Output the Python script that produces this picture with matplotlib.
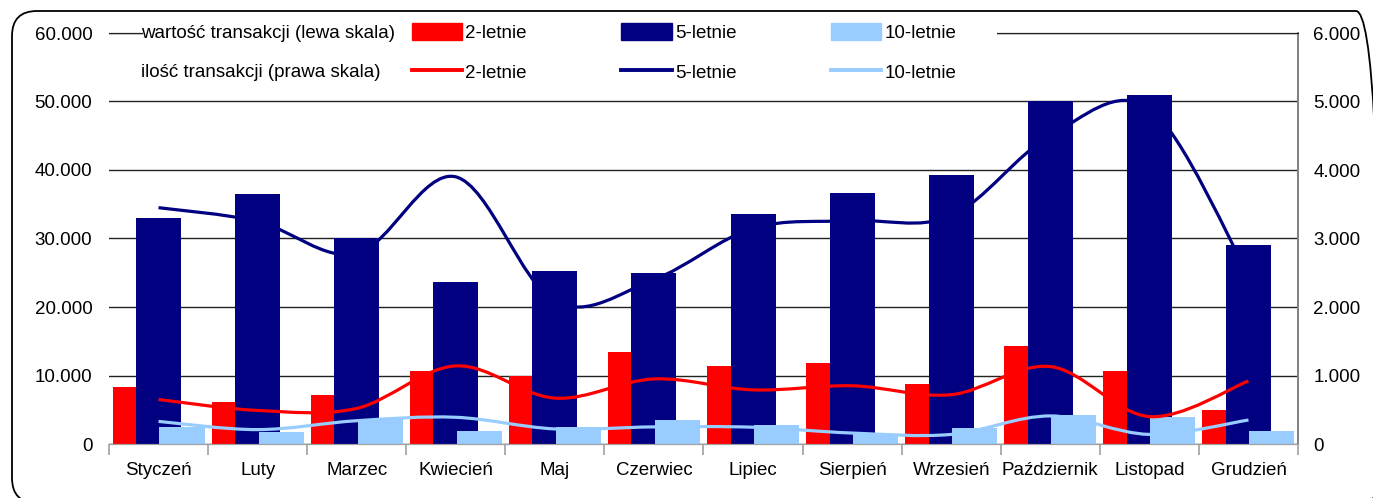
import numpy as np
import matplotlib
matplotlib.use("Agg")
import matplotlib.pyplot as plt
from matplotlib.path import Path
from matplotlib.patches import PathPatch, Rectangle, FancyBboxPatch, Patch
from matplotlib.lines import Line2D
from matplotlib.ticker import FuncFormatter, MultipleLocator

plt.rcParams['font.family'] = ['Liberation Sans', 'DejaVu Sans']
plt.rcParams['font.size'] = 13.5

months = ['Styczeń', 'Luty', 'Marzec', 'Kwiecień', 'Maj', 'Czerwiec', 'Lipiec',
          'Sierpień', 'Wrzesień', 'Październik', 'Listopad', 'Grudzień']

# wartość transakcji (lewa skala)
val_2 = [8300, 6100, 7100, 10600, 9900, 13400, 11400, 11800, 8700, 14300, 10600, 4900]
val_5 = [33000, 36500, 30100, 23700, 25200, 24900, 33600, 36700, 39300, 50000, 51000, 29000]
val_10 = [2550, 1700, 3600, 1950, 2550, 3500, 2800, 1400, 2350, 4300, 4000, 1950]

# ilość transakcji (prawa skala)
cnt_2 = [650, 490, 520, 1140, 670, 950, 790, 850, 720, 1130, 400, 920]
cnt_5 = [3450, 3250, 2780, 3900, 2080, 2400, 3150, 3260, 3330, 4500, 4900, 2470]
cnt_10 = [330, 210, 340, 390, 220, 250, 245, 160, 140, 410, 140, 350]

RED = '#FF0000'
NAVY = '#000080'
LIGHT = '#99CCFF'


def smooth_path(xs, ys):
    # Catmull-Rom style bezier through the points (like a "smoothed line")
    pts = np.column_stack([xs, ys]).astype(float)
    n = len(pts)
    verts = [pts[0]]
    codes = [Path.MOVETO]
    for i in range(n - 1):
        p0 = pts[max(i - 1, 0)]
        p1 = pts[i]
        p2 = pts[i + 1]
        p3 = pts[min(i + 2, n - 1)]
        verts += [p1 + (p2 - p0) / 6, p2 - (p3 - p1) / 6, p2]
        codes += [Path.CURVE4] * 3
    return Path(verts, codes)


def pl_fmt(v, pos):
    return f"{int(round(v)):,}".replace(",", ".")


fig = plt.figure(figsize=(13.73, 4.98), dpi=100)
ax = fig.add_axes([109 / 1373, 54 / 498, 1189 / 1373, 411 / 498])
ax2 = ax.twinx()

x = np.arange(len(months))
w = 0.455
step = 0.237
ax.bar(x - step, val_2, w, color=RED, zorder=2)
ax.bar(x, val_5, w, color=NAVY, zorder=2)
ax.bar(x + step, val_10, w, color=LIGHT, zorder=2)

for vals, col in [(cnt_2, RED), (cnt_5, NAVY), (cnt_10, LIGHT)]:
    ax2.add_patch(PathPatch(smooth_path(x, vals), facecolor='none', edgecolor=col,
                            lw=2.3, capstyle='butt', joinstyle='round'))

ax.set_xlim(-0.5, 11.5)
ax.set_ylim(0, 60000)
ax2.set_ylim(0, 6000)

ax.yaxis.set_major_locator(MultipleLocator(10000))
ax.yaxis.set_major_formatter(FuncFormatter(pl_fmt))
ax2.yaxis.set_major_locator(MultipleLocator(1000))
ax2.yaxis.set_major_formatter(FuncFormatter(pl_fmt))
ax.grid(axis='y', color='#222222', lw=1.0)
ax.set_axisbelow(True)

ax.set_xticks(x)
ax.set_xticklabels(months)
ax.set_xticks(np.arange(-0.5, 12, 1), minor=True)
ax.tick_params(axis='x', which='major', length=0, pad=13)
ax.tick_params(axis='x', which='minor', length=8, color='#A0A0A0', width=1.2)
ax.tick_params(axis='y', length=0, pad=12)
ax2.tick_params(axis='y', length=0, pad=11)

for a in (ax, ax2):
    a.spines['left'].set_visible(False)
    a.spines['top'].set_visible(True)
    a.spines['top'].set_color('#222222')
    a.spines['bottom'].set_color('#A0A0A0')
    a.spines['right'].set_color('#808080')
    a.spines['right'].set_linewidth(1.2)

# white strip behind the legend hides the top frame line there
ax2.add_patch(Rectangle((0.0286, 0.975), 0.718, 0.06, transform=ax2.transAxes,
                        facecolor='white', edgecolor='none', clip_on=False, zorder=5))

ax2.text(0.0269, 1.0, 'wartość transakcji (lewa skala)', transform=ax2.transAxes,
         va='center', ha='left', zorder=6)
ax2.text(0.0269, 0.905, 'ilość transakcji (prawa skala)', transform=ax2.transAxes,
         va='center', ha='left', zorder=6)

handles = [Patch(color=RED), Line2D([], [], color=RED, lw=2.8),
           Patch(color=NAVY), Line2D([], [], color=NAVY, lw=2.8),
           Patch(color=LIGHT), Line2D([], [], color=LIGHT, lw=2.8)]
labels = ['2-letnie', '2-letnie', '5-letnie', '5-letnie', '10-letnie', '10-letnie']
leg = ax2.legend(handles, labels, ncol=3, loc='upper left',
                 bbox_to_anchor=(0.2498, 1.039), frameon=False,
                 handlelength=2.67, handleheight=1.07, handletextpad=0.2,
                 columnspacing=5.04, labelspacing=1.12, borderpad=0.3,
                 borderaxespad=0)
leg.set_zorder(6)

# rounded outer frame
fig.add_artist(FancyBboxPatch((0.12, -0.05), 13.69, 4.92,
                              boxstyle='round,pad=0,rounding_size=0.25',
                              transform=fig.dpi_scale_trans, facecolor='none',
                              edgecolor='black', lw=1.3))

fig.savefig('out.png', dpi=100)
